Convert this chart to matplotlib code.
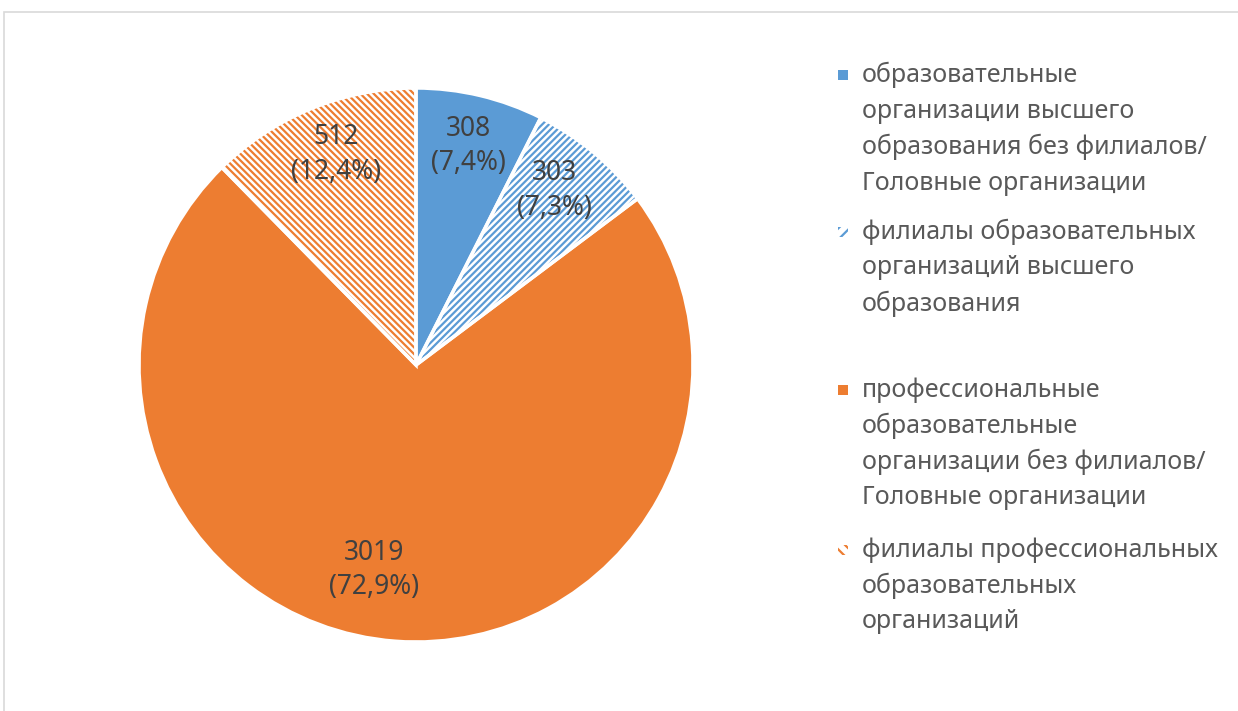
import matplotlib
matplotlib.use("Agg")
from matplotlib import pyplot as plt
from matplotlib.patches import Rectangle

plt.rcParams['font.family'] = ['Noto Sans', 'DejaVu Sans']
plt.rcParams['hatch.linewidth'] = 1.6

# data
values = [308, 303, 3019, 512]
shares = ['7,4%', '7,3%', '72,9%', '12,4%']
legend_labels = [
    'образовательные\nорганизации высшего\nобразования без филиалов/\nГоловные организации',
    'филиалы образовательных\nорганизаций высшего\nобразования',
    'профессиональные\nобразовательные\nорганизации без филиалов/\nГоловные организации',
    'филиалы профессиональных\nобразовательных\nорганизаций',
]

blue = '#5B9BD5'
orange = '#ED7D31'
colors = [blue, blue, orange, orange]
hatches = [None, '/////', None, '\\\\\\\\\\']

W, H = 1238, 711
fig = plt.figure(figsize=(W / 100, H / 100), dpi=100)

# chart border
fig.patches.append(Rectangle((3.5 / W, -0.01), 1.1, 1 - 11.5 / H + 0.01, transform=fig.transFigure,
                             fill=False, edgecolor='#d9d9d9', linewidth=1.2))

cx, cy, r = 416, 365, 277
ax = fig.add_axes([(cx - r) / W, (H - cy - r) / H, 2 * r / W, 2 * r / H])

wedges, _ = ax.pie(values, startangle=90, counterclock=False, radius=1)
for w, c, h in zip(wedges, colors, hatches):
    if h:
        w.set_facecolor('white')
        w.set_edgecolor(c)
        w.set_hatch(h)
        w.set_linewidth(0)
    else:
        w.set_facecolor(c)
        w.set_linewidth(0)

# white separators on top
ax.pie(values, startangle=90, counterclock=False, radius=1,
       wedgeprops=dict(facecolor='none', edgecolor='white', linewidth=2.5))
ax.set_xlim(-1, 1)
ax.set_ylim(-1, 1)
ax.axis('off')

label_pos = [(0.19, 0.79), (0.50, 0.63), (-0.15, -0.74), (-0.29, 0.76)]
for (x, y), v, s in zip(label_pos, values, shares):
    ax.text(x, y, f'{v}\n({s})', ha='center', va='center', fontsize=19,
            color='#404040', linespacing=1.3)

# legend drawn by hand
line_h = 36
starts = [75, 232, 390, 550]
for lab, c, h, y0 in zip(legend_labels, colors, hatches, starts):
    sq = Rectangle((838 / W, (H - y0 - 5) / H), 10 / W, 10 / H, transform=fig.transFigure,
                   facecolor='white' if h else c, edgecolor=c if h else 'none',
                   hatch=h[:3] if h else None, linewidth=0)
    fig.patches.append(sq)
    for i, ln in enumerate(lab.split('\n')):
        fig.text(862 / W, (H - y0 - i * line_h) / H, ln, ha='left', va='center',
                 fontsize=18, color='#595959')

fig.savefig('out.png', dpi=100)
